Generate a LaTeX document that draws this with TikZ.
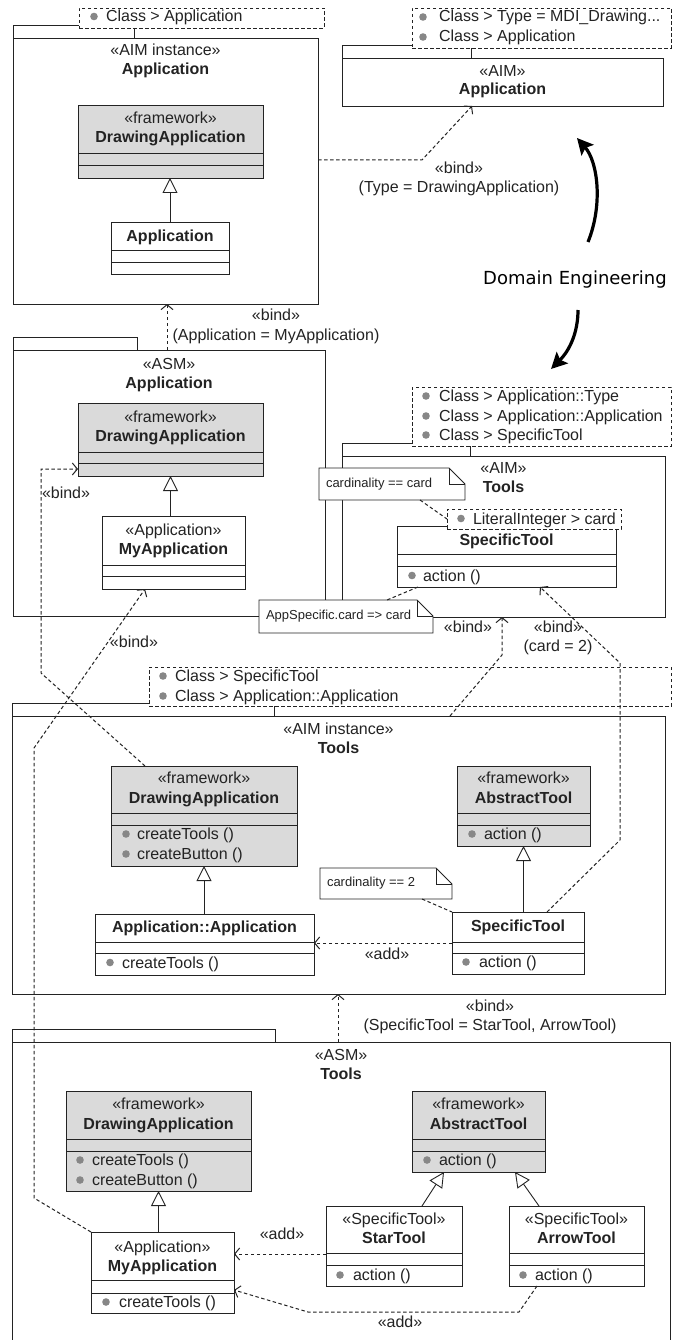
\documentclass[tikz,border=0pt]{standalone}
\usepackage{fontspec}
\setmainfont{Liberation Sans}
\newfontfamily\dejavu{DejaVu Sans}
\usetikzlibrary{arrows.meta}
\definecolor{fwgray}{RGB}{218,218,218}
\definecolor{ink}{RGB}{35,35,35}
\definecolor{dotgray}{RGB}{135,135,135}

% UML comment with a folded corner: name, x, y, width, height, text
\newcommand\foldnote[6]{%
  \node[hole,sz={#4}{#5}] (#1) at (#2,#3) {};
  \filldraw[ln,fill=white] (#1.north west) -- ([xshift=-16pt]#1.north east)
    -- ([yshift=-16pt]#1.north east) -- (#1.south east) -- (#1.south west) -- cycle;
  \draw[ln] ([xshift=-16pt]#1.north east) -- ([xshift=-16pt,yshift=-16pt]#1.north east)
    -- ([yshift=-16pt]#1.north east);
  \node[cn] at ([xshift=7pt]#1.west) {#6};}
\newcommand\dotat[1]{\fill[dotgray] #1 circle (3.8pt);}

\begin{document}
\begin{tikzpicture}[x=1pt,y=-1pt,
  every node/.style={inner sep=0pt,outer sep=0pt,text=ink},
  sz/.style 2 args={minimum width=#1pt,minimum height=#2pt},
  txt/.style={font=\fontsize{16}{19}\selectfont,text height=11pt,text depth=3pt},
  nm/.style={font=\fontsize{16}{19}\selectfont\bfseries,text height=11pt,text depth=3pt},
  cn/.style={font=\fontsize{13}{15}\selectfont,text height=9pt,text depth=2.5pt,anchor=west},
  ln/.style={draw=ink,line width=0.9pt},
  box/.style={ln,fill=white,rectangle,anchor=north west},
  fw/.style={box,fill=fwgray},
  dbox/.style={draw=ink,line width=0.9pt,dash pattern=on 3.5pt off 2.5pt,fill=white,rectangle,anchor=north west},
  hole/.style={rectangle,anchor=north west},
  dashline/.style={draw=ink,line width=1pt,dash pattern=on 3.5pt off 2.5pt},
  dep/.style={dashline,-{Straight Barb[length=5pt,width=12pt,line width=1pt]}},
  gen/.style={ln,-{Triangle[length=15pt,width=15pt,fill=white,line width=0.9pt]}},
  bigarrow/.style={draw=black,line width=3.2pt,-{Stealth[length=16pt,width=16pt,inset=3pt]}},
]
\fill[white,use as bounding box] (0,0) rectangle (676,1340);

% ---------- AIM instance: Application ----------
\node[box,sz={121}{13}] (p1tab) at (13,25) {};
\node[box,sz={305}{266}] (p1) at (13,38) {};
\node[txt] at (165.5,52) {«AIM instance»};
\node[nm] at (165.5,71) {Application};
\node[fw,sz={185}{73}] (da1) at (78,105) {};
\draw[ln] (78,153) -- (263,153) (78,165) -- (263,165);
\node[txt] at (170.5,120) {«framework»};
\node[nm] at (170.5,139) {DrawingApplication};
\node[box,sz={118}{52}] (app1) at (111,222) {};
\draw[ln] (111,250) -- (229,250) (111,262) -- (229,262);
\node[nm] at (170,237) {Application};
\node[dbox,sz={245}{20}] (n1) at (79,8) {};
\dotat{(94,16.5)}
\node[txt,anchor=west] at (106,18) {Class > Application};

% ---------- AIM: Application ----------
\node[box,sz={129}{13}] (p2tab) at (342,45) {};
\node[box,sz={321}{48}] (p2) at (342,58) {};
\node[txt] at (502.5,73) {«AIM»};
\node[nm] at (502.5,91) {Application};
\node[dbox,sz={259}{40}] (n2) at (412,8) {};
\dotat{(423,17)}
\dotat{(423,37)}
\node[txt,anchor=west] at (439,18) {Class > Type = MDI\_Drawing...};
\node[txt,anchor=west] at (439,38) {Class > Application};

% ---------- ASM: Application ----------
\node[box,sz={124}{13}] (p3tab) at (13,337) {};
\node[box,sz={312}{266}] (p3) at (13,350) {};
\node[txt] at (169,365) {«ASM»};
\node[nm] at (169,384) {Application};
\node[fw,sz={185}{73}] (da2) at (78,403) {};
\draw[ln] (78,452) -- (263,452) (78,463) -- (263,463);
\node[txt] at (170.5,418) {«framework»};
\node[nm] at (170.5,437) {DrawingApplication};
\node[box,sz={143}{73}] (mya1) at (102,516) {};
\draw[ln] (102,565) -- (245,565) (102,576) -- (245,576);
\node[txt] at (173.5,531) {«Application»};
\node[nm] at (173.5,550) {MyApplication};

% ---------- AIM: Tools ----------
\node[box,sz={128}{13}] (p4tab) at (342,443) {};
\node[box,sz={323}{161}] (p4) at (342,456) {};
\node[txt] at (503.5,469) {«AIM»};
\node[nm] at (503.5,488) {Tools};
\node[box,sz={219}{61}] (st1) at (397,526) {};
\draw[ln] (397,554) -- (616,554) (397,566) -- (616,566);
\node[nm] at (506.5,541) {SpecificTool};
\dotat{(412,575.5)}
\node[txt,anchor=west] at (423,577) {action ()};
\node[dbox,sz={174}{20}] (n4) at (447,509) {};
\dotat{(461,518.5)}
\node[txt,anchor=west] at (473,520) {LiteralInteger > card};
\node[dbox,sz={259}{59}] (n3) at (412,387) {};
\dotat{(426,396)}
\dotat{(426,416)}
\dotat{(426,435)}
\node[txt,anchor=west] at (439,397) {Class > Application::Type};
\node[txt,anchor=west] at (439,417) {Class > Application::Application};
\node[txt,anchor=west] at (439,436) {Class > SpecificTool};
\foldnote{c1}{319}{468}{146}{32}{cardinality == card}
\foldnote{c2}{259}{600}{174}{33}{AppSpecific.card => card}

% ---------- AIM instance: Tools ----------
\node[box,sz={262}{13}] (p5tab) at (12,703) {};
\node[box,sz={653}{278}] (p5) at (12,716) {};
\node[dbox,sz={522}{39}] (n5) at (149,667) {};
\dotat{(163,676)}
\dotat{(163,696)}
\node[txt,anchor=west] at (175,677) {Class > SpecificTool};
\node[txt,anchor=west] at (175,697) {Class > Application::Application};
\node[txt] at (338.5,730) {«AIM instance»};
\node[nm] at (338.5,749) {Tools};
\node[fw,sz={186}{100}] (da3) at (111,766) {};
\draw[ln] (111,813) -- (297,813) (111,825) -- (297,825);
\node[txt] at (204,779) {«framework»};
\node[nm] at (204,799) {DrawingApplication};
\dotat{(126,834)}
\dotat{(126,854)}
\node[txt,anchor=west] at (137,835) {createTools ()};
\node[txt,anchor=west] at (137,855) {createButton ()};
\node[box,sz={219}{61}] (aa) at (95,914) {};
\draw[ln] (95,942) -- (314,942) (95,953) -- (314,953);
\node[nm] at (204.5,928) {Application::Application};
\dotat{(110,962.5)}
\node[txt,anchor=west] at (122,964) {createTools ()};
\node[fw,sz={133}{80}] (at1) at (457,766) {};
\draw[ln] (457,813) -- (590,813) (457,825) -- (590,825);
\node[txt] at (523.5,779) {«framework»};
\node[nm] at (523.5,799) {AbstractTool};
\dotat{(472,834)}
\node[txt,anchor=west] at (484,835) {action ()};
\node[box,sz={132}{62}] (st2) at (452,912) {};
\draw[ln] (452,942) -- (584,942) (452,953) -- (584,953);
\node[nm] at (518,927) {SpecificTool};
\dotat{(466,962)}
\node[txt,anchor=west] at (479,963) {action ()};
\foldnote{c3}{320}{868}{132}{31}{cardinality == 2}

% ---------- ASM: Tools ----------
\node[box,sz={263}{13}] (p6tab) at (12,1029) {};
\node[hole,sz={658}{298}] (p6) at (12,1042) {};
\fill[white] (p6.south west) rectangle (p6.north east);
\draw[ln] (p6.south west) -- (p6.north west) -- (p6.north east) -- (p6.south east);
\node[txt] at (341,1056) {«ASM»};
\node[nm] at (341,1075) {Tools};
\node[fw,sz={185}{100}] (da4) at (66,1091) {};
\draw[ln] (66,1139) -- (251,1139) (66,1151) -- (251,1151);
\node[txt] at (158.5,1105) {«framework»};
\node[nm] at (158.5,1125) {DrawingApplication};
\dotat{(80,1160)}
\dotat{(80,1180)}
\node[txt,anchor=west] at (92,1161) {createTools ()};
\node[txt,anchor=west] at (92,1181) {createButton ()};
\node[box,sz={143}{81}] (mya2) at (91,1232) {};
\draw[ln] (91,1280) -- (234,1280) (91,1293) -- (234,1293);
\node[txt] at (162.5,1248) {«Application»};
\node[nm] at (162.5,1267) {MyApplication};
\dotat{(106,1302)}
\node[txt,anchor=west] at (119,1303) {createTools ()};
\node[fw,sz={133}{81}] (at2) at (412,1091) {};
\draw[ln] (412,1139) -- (545,1139) (412,1151) -- (545,1151);
\node[txt] at (478.5,1105) {«framework»};
\node[nm] at (478.5,1125) {AbstractTool};
\dotat{(427,1160)}
\node[txt,anchor=west] at (439,1161) {action ()};
\node[box,sz={136}{80}] (star) at (326,1206) {};
\draw[ln] (326,1253) -- (462,1253) (326,1265) -- (462,1265);
\node[txt] at (394,1220) {«SpecificTool»};
\node[nm] at (394,1239) {StarTool};
\dotat{(340,1275)}
\node[txt,anchor=west] at (353,1276) {action ()};
\node[box,sz={135}{80}] (arrw) at (509,1206) {};
\draw[ln] (509,1253) -- (644,1253) (509,1265) -- (644,1265);
\node[txt] at (576.5,1220) {«SpecificTool»};
\node[nm] at (576.5,1239) {ArrowTool};
\dotat{(523,1275)}
\node[txt,anchor=west] at (535,1276) {action ()};

% ---------- generalizations ----------
\draw[gen] (app1.north) -- (app1.north |- da1.south);
\draw[gen] (da2.south |- mya1.north) -- (da2.south);
\draw[gen] (da3.south |- aa.north) -- (da3.south);
\draw[gen] (at1.south |- st2.north) -- (at1.south);
\draw[gen] (da4.south |- mya2.north) -- (da4.south);
\draw[gen] ([xshift=28pt]star.north) -- ([xshift=-34.5pt]at2.south);
\draw[gen] ([xshift=-37.5pt]arrw.north) -- ([xshift=36.5pt]at2.south);

% ---------- comment links ----------
\draw[dashline] ([xshift=28pt]c1.south) -- (n4.west);
\draw[dashline] ([xshift=-88.5pt]st1.south) -- ([xshift=41pt]c2.north);
\draw[dashline] ([xshift=36pt]c3.south) -- (st2.north west);

% ---------- bind / add dependencies ----------
\coordinate (k1) at (422,160);
\draw[dep] ([yshift=-122pt]p1.north east) -- (k1) -- ([xshift=-30.5pt]p2.south);
\draw[dep] ([xshift=-2pt]p3.north) -- ([xshift=1.5pt]p1.south);
\coordinate (a1) at (41,673);
\coordinate (a2) at (41,469);
\draw[dep] ([xshift=34pt]da3.north west) -- (a1) -- (a2) -- ([yshift=7pt]da2.south west);
\coordinate (b1) at (34,1198);
\coordinate (b2) at (34,748);
\draw[dep] (mya2.north west) -- (b1) -- (b2) -- ([xshift=43pt]mya1.south west);
\coordinate (c0) at (502,655);
\draw[dep] ([xshift=111.5pt]p5.north) -- (c0) -- (c0 |- p4.south);
\coordinate (d1) at (620,840);
\coordinate (d2) at (620,663);
\draw[dep] ([xshift=29pt]st2.north) -- (d1) -- (d2) -- ([xshift=33.5pt]st1.south);
\draw[dep] ([xshift=-3pt]p6.north) -- ([xshift=-0.5pt]p5.south);
\draw[dep] (st2.west) -- (st2.west -| aa.east);
\coordinate (s2) at ([yshift=-8pt]star.west);
\draw[dep] (s2) -- (s2 -| mya2.east);
\coordinate (e1) at (519,1312);
\coordinate (e2) at (308,1312);
\draw[dep] ([xshift=-39.5pt]arrw.south) -- (e1) -- (e2) -- ([yshift=-17.5pt]mya2.east);

% ---------- connector labels ----------
\node[txt] at (459,170) {«bind»};
\node[txt] at (459,189) {(Type = DrawingApplication)};
\node[txt] at (276,316) {«bind»};
\node[txt] at (276,336) {(Application = MyApplication)};
\node[txt,anchor=west] at (42,494) {«bind»};
\node[txt] at (134,643) {«bind»};
\node[txt] at (468,628) {«bind»};
\node[txt] at (558,628) {«bind»};
\node[txt] at (558,647) {(card = 2)};
\node[txt] at (387,955) {«add»};
\node[txt] at (490,1007) {«bind»};
\node[txt] at (490,1026) {(SpecificTool = StarTool, ArrowTool)};
\node[txt] at (282,1235) {«add»};
\node[txt] at (400,1323) {«add»};

% ---------- domain engineering ----------
\node[font=\dejavu\fontsize{18}{21}\selectfont,text=black] (de) at (575,280) {Domain Engineering};
\coordinate (u0) at (588,242);
\coordinate (u1) at (577,138);
\draw[bigarrow] (u0) .. controls (603,205) and (598,162) .. (u1);
\coordinate (w0) at (578,310);
\coordinate (w1) at (551,369);
\draw[bigarrow] (w0) .. controls (578,332) and (570,350) .. (w1);
\end{tikzpicture}
\end{document}
